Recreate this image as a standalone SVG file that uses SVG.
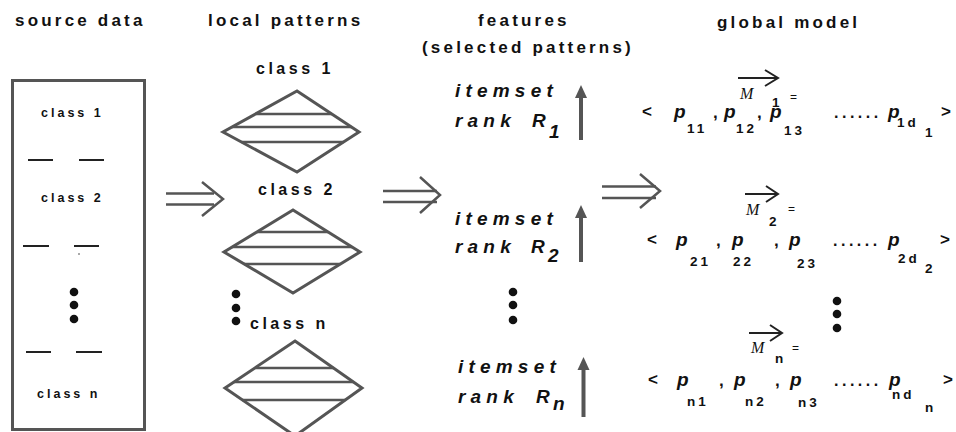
<svg xmlns="http://www.w3.org/2000/svg" width="956" height="432" viewBox="0 0 956 432">
<style>
.hdr{font-family:"Liberation Sans",Arial,sans-serif;font-weight:bold;font-size:17px;letter-spacing:3.2px;fill:#111}
.box{fill:none;stroke:#555;stroke-width:3}
.bl{font-family:"Liberation Sans",Arial,sans-serif;font-weight:bold;font-size:12.5px;letter-spacing:3px;fill:#111}
.dl{font-family:"Liberation Sans",Arial,sans-serif;font-weight:bold;font-size:16px;letter-spacing:3.5px;fill:#111}
.dash{stroke:#222;stroke-width:2}
.dia{fill:none;stroke:#555;stroke-width:3;stroke-linejoin:miter}
.hl{stroke:#555;stroke-width:2.5}
.dbl{fill:none;stroke:#555;stroke-width:2.5}
.it{font-family:"Liberation Sans",Arial,sans-serif;font-weight:bold;font-style:italic;font-size:19px;letter-spacing:5.2px;fill:#111}
.itR{font-family:"Liberation Sans",Arial,sans-serif;font-weight:bold;font-style:italic;font-size:19px;fill:#111}
.up{stroke:#555;stroke-width:4}
.uph{fill:#555}
.p{font-family:"Liberation Sans",Arial,sans-serif;font-weight:bold;font-style:italic;font-size:19px;fill:#111}
.s{font-family:"Liberation Sans",Arial,sans-serif;font-weight:bold;font-size:13.5px;letter-spacing:3px;fill:#111}
.o{font-family:"Liberation Sans",Arial,sans-serif;font-weight:bold;font-size:17px;fill:#111}
.dots{font-family:"Liberation Sans",Arial,sans-serif;font-weight:bold;font-size:16px;letter-spacing:3.5px;fill:#111}
.M{font-family:"Liberation Serif","Times New Roman",serif;font-style:italic;font-size:16px;fill:#111}
.eq{font-family:"Liberation Sans",Arial,sans-serif;font-size:12px;fill:#111}
.va{fill:none;stroke:#222;stroke-width:2}
.dot{fill:#111}
</style>

<g id="titles">
<text class="hdr" x="15" y="26">source data</text>
<text class="hdr" x="208" y="26">local patterns</text>
<text class="hdr" x="478" y="26">features</text>
<text class="hdr" x="422" y="53">(selected patterns)</text>
<text class="hdr" x="717" y="28">global model</text>
</g>

<g id="source-data">
<rect class="box" x="12.5" y="80.5" width="132" height="349"/>
<text class="bl" x="41" y="117">class 1</text>
<line class="dash" x1="28" y1="160" x2="53" y2="160"/>
<line class="dash" x1="79" y1="160" x2="104" y2="160"/>
<text class="bl" x="41" y="202">class 2</text>
<line class="dash" x1="23" y1="246" x2="49" y2="246"/>
<line class="dash" x1="74" y1="246" x2="99" y2="246"/>
<circle class="dot" cx="79" cy="254" r="0.7"/>
<circle class="dot" cx="74" cy="292" r="4.3"/>
<circle class="dot" cx="74" cy="305" r="4.3"/>
<circle class="dot" cx="74" cy="319" r="4.3"/>
<line class="dash" x1="26" y1="352" x2="51" y2="352"/>
<line class="dash" x1="76" y1="352" x2="102" y2="352"/>
<text class="bl" x="37" y="398">class n</text>
</g>

<g id="local-pattern-1">
<text class="dl" x="256" y="74">class 1</text>
<polygon class="dia" points="297,91 359,132 297,172 223,132"/>
<line class="hl" x1="255.5" y1="114" x2="331.8" y2="114"/>
<line class="hl" x1="232" y1="127" x2="351.4" y2="127"/>
<line class="hl" x1="241.5" y1="142" x2="343.5" y2="142"/>
</g>

<g id="local-pattern-2">
<text class="dl" x="258" y="195">class 2</text>
<polygon class="dia" points="293,210 360,252 293,293 224,252"/>
<line class="hl" x1="257" y1="232" x2="328" y2="232"/>
<line class="hl" x1="232" y1="247" x2="352" y2="247"/>
<line class="hl" x1="244" y1="264" x2="340" y2="264"/>
</g>

<g id="local-pattern-n">
<circle class="dot" cx="236" cy="294" r="4.3"/>
<circle class="dot" cx="236" cy="308" r="4.3"/>
<circle class="dot" cx="236" cy="321" r="4.3"/>
<text class="dl" x="250" y="329">class n</text>
<polygon class="dia" points="295,341 362,388 295,436 225,388"/>
<line class="hl" x1="254.8" y1="368" x2="333.5" y2="368"/>
<line class="hl" x1="233.9" y1="382" x2="353.4" y2="382"/>
<line class="hl" x1="242.5" y1="400" x2="345.2" y2="400"/>
</g>

<g id="feature-1">
<text class="it" x="455" y="97">itemset</text>
<text class="it" x="455" y="127">rank</text>
<text class="itR" x="532" y="127">R</text>
<text class="itR" x="549" y="138">1</text>
<line class="up" x1="581" y1="140" x2="581" y2="95"/>
<polygon class="uph" points="581,85 575,98 587,98"/>
</g>

<g id="feature-2">
<text class="it" x="455" y="225">itemset</text>
<text class="it" x="455" y="253">rank</text>
<text class="itR" x="531" y="253">R</text>
<text class="itR" x="548" y="262">2</text>
<line class="up" x1="581" y1="262" x2="581" y2="215"/>
<polygon class="uph" points="581,205 575,218 587,218"/>
<circle class="dot" cx="513" cy="292" r="4.3"/>
<circle class="dot" cx="513" cy="305" r="4.3"/>
<circle class="dot" cx="513" cy="320" r="4.3"/>
</g>

<g id="feature-n">
<text class="it" x="458" y="373">itemset</text>
<text class="it" x="458" y="403">rank</text>
<text class="itR" x="536" y="403">R</text>
<text class="itR" x="553" y="410">n</text>
<line class="up" x1="583.5" y1="417" x2="583.5" y2="367"/>
<polygon class="uph" points="583.5,357 577.5,370 589.5,370"/>
</g>

<g id="model-1">
<line class="va" x1="738" y1="78" x2="777" y2="78"/>
<polyline class="va" points="765,70 778,78 765,86"/>
<text class="M" x="740" y="99">M</text>
<text class="s" x="772" y="107">1</text>
<text class="eq" x="790" y="101">=</text>
<text class="o" x="642" y="117">&lt;</text>
<text class="p" x="674" y="118">p</text>
<text class="s" x="687" y="133">11</text>
<text class="o" x="713" y="118">,</text>
<text class="p" x="724" y="118">p</text>
<text class="s" x="736" y="133">12</text>
<text class="o" x="757" y="118">,</text>
<text class="p" x="770" y="118">p</text>
<text class="s" x="784" y="135">13</text>
<text class="dots" x="834" y="118">......</text>
<text class="p" x="888" y="118">p</text>
<text class="s" x="897" y="127">1d</text>
<text class="s" x="925" y="137">1</text>
<text class="o" x="941" y="117">&gt;</text>
</g>

<g id="model-2">
<line class="va" x1="745" y1="194" x2="777" y2="194"/>
<polyline class="va" points="766,186 778,194 766,202"/>
<text class="M" x="746" y="215">M</text>
<text class="s" x="769" y="226">2</text>
<text class="eq" x="788" y="213">=</text>
<text class="o" x="647" y="245">&lt;</text>
<text class="p" x="676" y="246">p</text>
<text class="s" x="690" y="266">21</text>
<text class="o" x="716" y="246">,</text>
<text class="p" x="732" y="246">p</text>
<text class="s" x="733" y="266">22</text>
<text class="o" x="774" y="246">,</text>
<text class="p" x="789" y="246">p</text>
<text class="s" x="797" y="268">23</text>
<text class="dots" x="833" y="246">......</text>
<text class="p" x="888" y="246">p</text>
<text class="s" x="898" y="263">2d</text>
<text class="s" x="925" y="273">2</text>
<text class="o" x="940" y="245">&gt;</text>
<circle class="dot" cx="837" cy="301" r="4.3"/>
<circle class="dot" cx="837" cy="314" r="4.3"/>
<circle class="dot" cx="837" cy="328" r="4.3"/>
</g>

<g id="model-n">
<line class="va" x1="749" y1="333" x2="781" y2="333"/>
<polyline class="va" points="770,325 782,333 770,341"/>
<text class="M" x="751" y="353">M</text>
<text class="s" x="775" y="363">n</text>
<text class="eq" x="792" y="352">=</text>
<text class="o" x="648" y="385">&lt;</text>
<text class="p" x="677" y="386">p</text>
<text class="s" x="687" y="406">n1</text>
<text class="o" x="719" y="386">,</text>
<text class="p" x="734" y="386">p</text>
<text class="s" x="745" y="406">n2</text>
<text class="o" x="775" y="386">,</text>
<text class="p" x="790" y="386">p</text>
<text class="s" x="798" y="407">n3</text>
<text class="dots" x="834" y="386">......</text>
<text class="p" x="889" y="386">p</text>
<text class="s" x="892" y="399">nd</text>
<text class="s" x="925" y="412">n</text>
<text class="o" x="943" y="385">&gt;</text>
</g>

<g id="connectors">
<line class="dbl" x1="166" y1="193.5" x2="214" y2="193.5"/>
<line class="dbl" x1="166" y1="204.5" x2="214" y2="204.5"/>
<polyline class="dbl" points="202,182 223,199 202,216"/>
<line class="dbl" x1="383" y1="191" x2="437" y2="191"/>
<line class="dbl" x1="383" y1="202" x2="437" y2="202"/>
<polyline class="dbl" points="420,177 440,195 420,213"/>
<line class="dbl" x1="602" y1="186.5" x2="656" y2="186.5"/>
<line class="dbl" x1="602" y1="198" x2="656" y2="198"/>
<polyline class="dbl" points="640,174 660,191 640,208"/>
</g>
</svg>
